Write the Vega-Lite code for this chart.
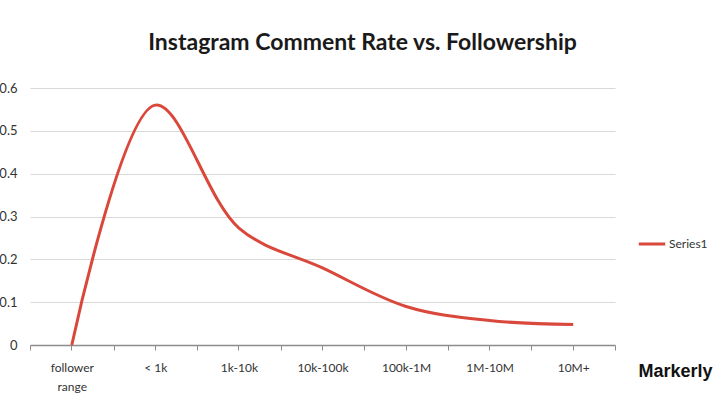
{
  "$schema": "https://vega.github.io/schema/vega-lite/v6.json",
  "width": 585,
  "height": 257,
  "autosize": "none",
  "padding": {"left": 30, "top": 88, "right": 105, "bottom": 55},
  "background": "white",
  "config": {"view": {"stroke": null}, "font": "Lato"},
  "title": {
    "text": "Instagram Comment Rate vs. Followership",
    "font": "Lato",
    "fontSize": 23,
    "fontWeight": "bold",
    "color": "#1a1a1a",
    "anchor": "middle",
    "dx": 40,
    "offset": 27
  },
  "data": {
    "values": [
      {"range": "follower range", "rate": 0, "series": "Series1"},
      {"range": "< 1k", "rate": 0.56, "series": "Series1"},
      {"range": "1k-10k", "rate": 0.273, "series": "Series1"},
      {"range": "10k-100k", "rate": 0.18, "series": "Series1"},
      {"range": "100k-1M", "rate": 0.09, "series": "Series1"},
      {"range": "1M-10M", "rate": 0.057, "series": "Series1"},
      {"range": "10M+", "rate": 0.048, "series": "Series1"}
    ]
  },
  "layer": [
    {
      "mark": {"type": "point", "opacity": 0},
      "encoding": {
        "x": {
          "field": "range", "type": "ordinal", "sort": null,
          "scale": {"type": "band", "paddingInner": 0, "paddingOuter": 0},
          "axis": {
            "orient": "top",
            "offset": -257,
            "labels": false,
            "domain": false,
            "grid": false,
            "ticks": true,
            "tickBand": "center",
            "tickSize": -5,
            "tickColor": "#8c8c8c",
            "title": null
          }
        }
      }
    },
    {
      "mark": {"type": "line", "interpolate": "catmull-rom", "strokeWidth": 3},
      "encoding": {
        "x": {
          "field": "range", "type": "ordinal", "sort": null,
          "scale": {"type": "band", "paddingInner": 0, "paddingOuter": 0},
          "axis": {
            "orient": "bottom",
            "labelAngle": 0,
            "labelFont": "Lato",
            "labelFontSize": 12,
            "labelColor": "#333333",
            "labelPadding": 12,
            "labelLineHeight": 19,
            "labelExpr": "datum.value == 'follower range' ? ['follower', 'range'] : datum.label",
            "tickBand": "extent",
            "tickSize": 5,
            "tickColor": "#8c8c8c",
            "domainColor": "#8c8c8c",
            "domainWidth": 1.5,
            "grid": false,
            "title": "Markerly",
            "titleFont": "Liberation Sans",
            "titleFontSize": 18,
            "titleFontWeight": "bold",
            "titleColor": "#111111",
            "titleAlign": "left",
            "titleAnchor": null,
            "titleX": 608,
            "titleY": 31,
            "titleBaseline": "alphabetic"
          }
        },
        "y": {
          "field": "rate", "type": "quantitative",
          "scale": {"domain": [0, 0.6]},
          "axis": {
            "values": [0, 0.1, 0.2, 0.3, 0.4, 0.5, 0.6],
            "format": ".1~f",
            "domain": false,
            "ticks": false,
            "grid": true,
            "gridColor": "#d9d9d9",
            "gridWidth": 1,
            "labelFont": "Lato",
            "labelFontSize": 13,
            "labelColor": "#333333",
            "labelPadding": 13,
            "title": null
          }
        },
        "color": {
          "field": "series", "type": "nominal",
          "scale": {"range": ["#d9483b"]},
          "legend": {
            "title": null,
            "orient": "none",
            "legendX": 607,
            "legendY": 141,
            "symbolType": "stroke",
            "symbolSize": 700,
            "symbolStrokeWidth": 3,
            "labelFont": "Lato",
            "labelFontSize": 12,
            "labelColor": "#333333",
            "labelOffset": 2
          }
        }
      }
    }
  ],
  "resolve": {"scale": {"x": "independent"}, "axis": {"x": "independent"}}
}
